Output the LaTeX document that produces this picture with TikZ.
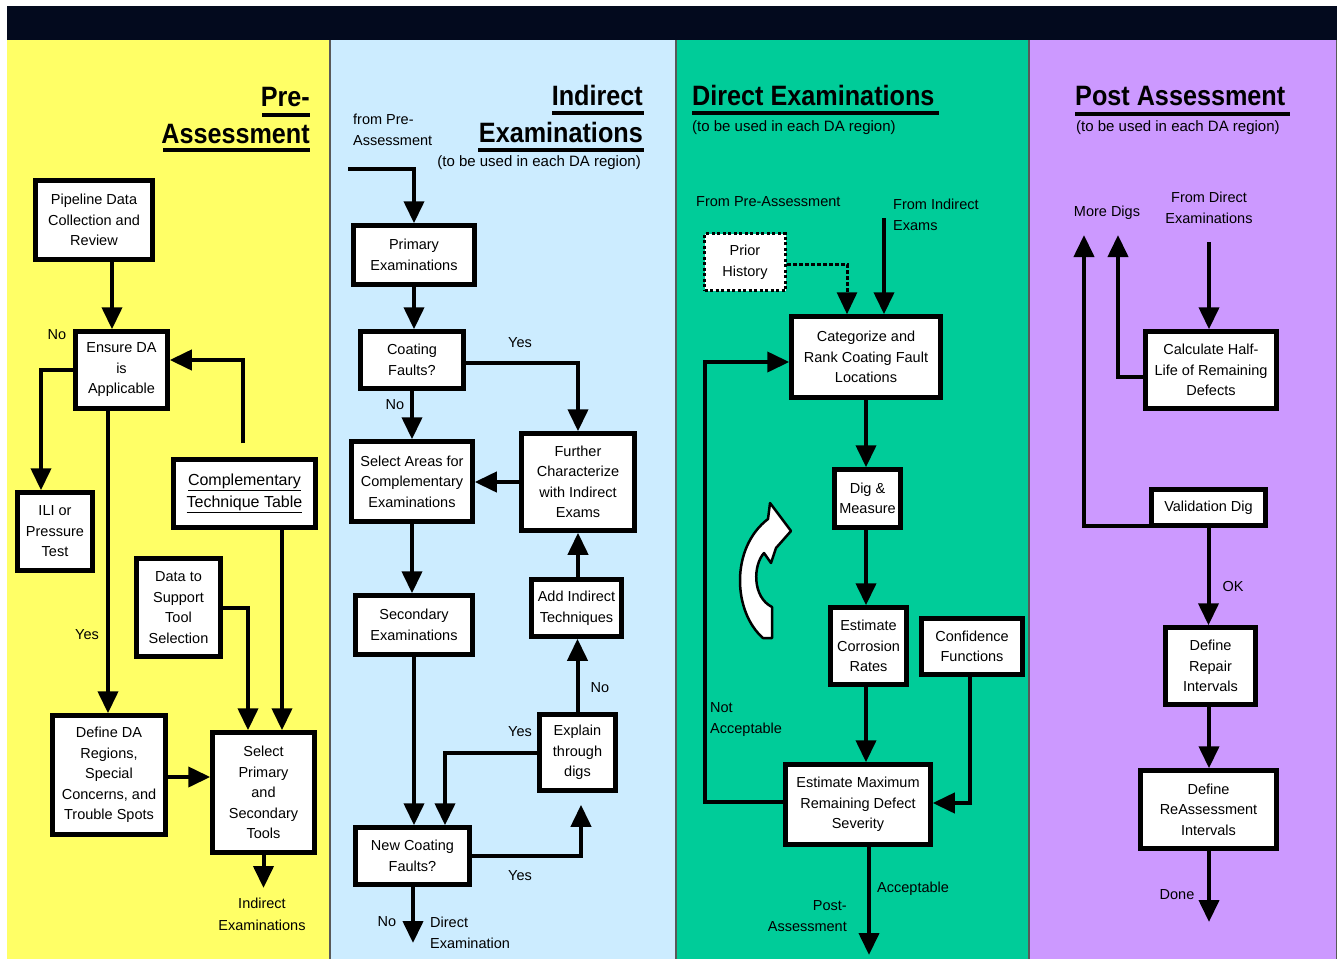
\documentclass[tikz,border=0pt]{standalone}
\usepackage{fontspec}
\setmainfont{Liberation Sans}
\newfontfamily\headfont[FakeStretch=0.9]{Liberation Sans Bold}
\usetikzlibrary{arrows.meta,calc}
\definecolor{cyel}{HTML}{FFFF66}
\definecolor{cblue}{HTML}{CCECFF}
\definecolor{cgreen}{HTML}{00CC99}
\definecolor{cpurp}{HTML}{CC99FF}
\definecolor{cdark}{HTML}{030A1E}
\newcommand{\boxfont}{\fontsize{14.5}{20.5}\selectfont}
\newcommand{\lblfont}{\fontsize{14.5}{21.5}\selectfont}
\begin{document}
\begin{tikzpicture}[x=1pt,y=-1pt,
  stepbox/.style={draw, line width=4.5pt, fill=white, align=center, inner sep=1pt, font=\boxfont},
  dotbox/.style={draw, line width=3pt, dash pattern=on 3pt off 2.5pt, fill=white, align=center, inner sep=1pt, font=\boxfont},
  arr/.style={line width=4pt, -{Triangle[length=22pt,width=20pt]}},
  dotarr/.style={line width=3pt, dash pattern=on 3.5pt off 2.5pt, -{Triangle[length=22pt,width=20pt]}},
  lbl/.style={font=\lblfont, inner sep=0pt, align=center},
  head/.style={font=\headfont\fontsize{28}{30}\selectfont, inner sep=0pt},
  sub/.style={font=\fontsize{15}{17}\selectfont, inner sep=0pt},
  uline/.style={line width=4pt}
]
\useasboundingbox (0,0) rectangle (1344,959);
\fill[white] (0,0) rectangle (1344,959);
% panels
\fill[cdark] (7,6) rectangle (1337,40);
\fill[cyel] (7,40) rectangle (330,959);
\fill[cblue] (330,40) rectangle (676,959);
\fill[cgreen] (676,40) rectangle (1029,959);
\fill[cpurp] (1029,40) rectangle (1337,959);
\draw[black!65, line width=1.2pt] (330,40) -- (330,959) (676,40) -- (676,959) (1029,40) -- (1029,959) (1336.5,40) -- (1336.5,959);

% ---------- Pre-Assessment ----------
\node[head, anchor=base east] (tPre) at (310,106) {Pre-};
\node[head, anchor=base east] (tAss) at (310,143) {Assessment};
\draw[uline] (262,115) -- (310,115);
\draw[uline] (163,150) -- (310,150);

\node[stepbox, minimum width=117pt, minimum height=79pt] (pd) at (94,220) {Pipeline Data\\Collection and\\Review};
\node[stepbox, minimum width=92pt, minimum height=77pt] (ens) at (121.5,370) {Ensure DA\\is\\Applicable};
\node[stepbox, minimum width=75pt, minimum height=78pt] (ili) at (55,531.5) {ILI or\\Pressure\\Test};
\node[stepbox, minimum width=142pt, minimum height=68pt, font=\fontsize{16}{22}\selectfont] (ctt) at (244.5,493.5) {\underline{Complementary}\\\underline{Technique Table}};
\node[stepbox, minimum width=84pt, minimum height=98pt] (data) at (178.5,607.5) {Data to\\Support\\Tool\\Selection};
\node[stepbox, minimum width=113pt, minimum height=119pt] (def) at (109,775) {Define DA\\Regions,\\Special\\Concerns, and\\Trouble Spots};
\node[stepbox, minimum width=102pt, minimum height=120pt] (sel) at (263.5,792.5) {Select\\Primary\\and\\Secondary\\Tools};

\draw[arr] ([xshift=18pt]pd.south) -- ([xshift=-9.5pt]ens.north);
\draw[arr] (ens.west) -| ([xshift=-14pt]ili.north);
\draw[arr] ([xshift=-13.5pt]ens.south) -- ([xshift=-1pt]def.north);
\draw[arr] ([xshift=-1.5pt,yshift=14pt]ctt.north) |- ([yshift=10pt]ens.east);
\draw[arr] (data.east) -| ([xshift=-15.5pt]sel.north);
\draw[arr] ([xshift=37.5pt]ctt.south) -- ([xshift=18.5pt]sel.north);
\draw[arr] ([yshift=-2pt]def.east) -- ([yshift=-2pt]def.east -| sel.west);
\coordinate (selend) at (263.5,888);
\draw[arr] (sel.south) -- (selend);

\node[lbl] (lNo1) at (57,335) {No};
\node[lbl] (lYes1) at (87,635) {Yes};
\node[lbl] (lIE) at (262,914.5) {Indirect\\Examinations};

% ---------- Indirect Examinations ----------
\node[head, anchor=base east] (tInd) at (643,105) {Indirect};
\node[head, anchor=base east] (tExa) at (643,142) {Examinations};
\draw[uline] (552,113) -- (644,113);
\draw[uline] (478,150) -- (644,150);
\node[sub, anchor=east] (sInd) at (641,163) {(to be used in each DA region)};
\node[lbl, anchor=west, align=left] (lFromPA) at (353,130) {from Pre-\\Assessment};

\node[stepbox, minimum width=121pt, minimum height=59pt] (prim) at (414,255) {Primary\\Examinations};
\node[stepbox, minimum width=103pt, minimum height=57pt] (coat) at (412,360) {Coating\\Faults?};
\node[stepbox, minimum width=121pt, minimum height=80pt] (sela) at (412,481.5) {Select Areas for\\Complementary\\Examinations};
\node[stepbox, minimum width=113pt, minimum height=97pt] (fur) at (578,482) {Further\\Characterize\\with Indirect\\Exams};
\node[stepbox, minimum width=117pt, minimum height=59pt] (sec) at (414,625) {Secondary\\Examinations};
\node[stepbox, minimum width=90pt, minimum height=57pt] (add) at (576.5,608) {Add Indirect\\Techniques};
\node[stepbox, minimum width=76pt, minimum height=76pt] (expl) at (577.5,752.5) {Explain\\through\\digs};
\node[stepbox, minimum width=114pt, minimum height=57pt] (newc) at (412.5,856) {New Coating\\Faults?};

\coordinate (fromPA) at (348,169);
\draw[arr] (fromPA) -| (prim.north);
\draw[arr] (prim.south) -- (prim.south |- coat.north);
\draw[arr] ([yshift=-3pt]coat.east) -| (fur.north);
\draw[arr] (coat.south) -- (coat.south |- sela.north);
\draw[arr] (fur.west) -- (fur.west -| sela.east);
\draw[arr] (sela.south) -- (sela.south |- sec.north);
\draw[arr] (sec.south) -- (sec.south |- newc.north);
\draw[arr] (add.north -| fur.south) -- (fur.south);
\draw[arr] (expl.north) -- (expl.north |- add.south);
\draw[arr] (expl.west) -| ([xshift=32.5pt]newc.north);
\draw[arr] (newc.east) -| ([xshift=3.5pt,yshift=-12pt]expl.south);
\coordinate (newcend) at (413,943);
\draw[arr] ([xshift=0.5pt]newc.south) -- (newcend);

\node[lbl] (lYes2) at (520,343) {Yes};
\node[lbl] (lNo2) at (395,405) {No};
\node[lbl] (lNo3) at (600,688) {No};
\node[lbl] (lYes3) at (520,732) {Yes};
\node[lbl] (lYes4) at (520,876) {Yes};
\node[lbl] (lNo4) at (387,922) {No};
\node[lbl, anchor=west, align=left] (lDE) at (430,933) {Direct\\Examination};

% ---------- Direct Examinations ----------
\node[head, anchor=base west] (tDir) at (692,105) {Direct Examinations};
\draw[uline] (692,113) -- (939,113);
\node[sub, anchor=west] (sDir) at (692,128) {(to be used in each DA region)};
\node[lbl, anchor=west] (lFPA) at (696,202) {From Pre-Assessment};
\node[lbl, anchor=west, align=left] (lFIE) at (893,215) {From Indirect\\Exams};

\node[dotbox, minimum width=81pt, minimum height=57pt] (prior) at (745,262) {Prior\\History};
\node[stepbox, minimum width=149pt, minimum height=81pt] (cat) at (866,357) {Categorize and\\Rank Coating Fault\\Locations};
\node[stepbox, minimum width=66pt, minimum height=58pt] (dig) at (867.5,498.5) {Dig \&\\Measure};
\node[stepbox, minimum width=76pt, minimum height=77pt] (ecr) at (868.5,646) {Estimate\\Corrosion\\Rates};
\node[stepbox, minimum width=101pt, minimum height=56pt] (conf) at (972,646.5) {Confidence\\Functions};
\node[stepbox, minimum width=145pt, minimum height=80pt] (emax) at (858,804.5) {Estimate Maximum\\Remaining Defect\\Severity};

\draw[dotarr] ([yshift=-2pt]prior.east) -| ([xshift=-19pt]cat.north);
\coordinate (fromIE) at (884,218);
\draw[arr] (fromIE) -- (fromIE |- cat.north);
\draw[arr] (cat.south) -- (cat.south |- dig.north);
\draw[arr] ([xshift=-1.5pt]dig.south) -- ([xshift=-1.5pt]dig.south |- ecr.north);
\draw[arr] ([xshift=-2.5pt]ecr.south) -- ([xshift=-2.5pt]ecr.south |- emax.north);
\draw[arr] ([xshift=-2pt]conf.south) |- ([yshift=1.5pt]emax.east);
\coordinate (loopx) at (705,600);
\coordinate (catin) at ([yshift=-5pt]cat.west);
\draw[arr] ([yshift=3pt]emax.west) -| (loopx) |- (catin);
\coordinate (emend) at (869,955);
\draw[arr] ([xshift=11pt]emax.south) -- (emend);

\node[lbl, anchor=west, align=left] (lNA) at (710,719.5) {Not\\Acceptable};
\node[lbl, anchor=west] (lAcc) at (877,889) {Acceptable};
\node[lbl, anchor=east, align=right] (lPA) at (847,916) {Post-\\Assessment};

% curved block arrow
\draw[line width=2.5pt, fill=white, line join=round]
  (770,503) -- (791,531) -- (776,548) -- (771,563) -- (764,553)
  .. controls (753,565) and (752,597) .. (772,607)
  -- (772,638) -- (763,638)
  .. controls (733,612) and (730,548) .. (768,519)
  -- cycle;

% ---------- Post Assessment ----------
\node[head, anchor=base west] (tPost) at (1075,105) {Post Assessment};
\draw[uline] (1075,114) -- (1290,114);
\node[sub, anchor=west] (sPost) at (1076,128) {(to be used in each DA region)};
\node[lbl] (lMD) at (1107,213) {More Digs};
\node[lbl] (lFDE) at (1209,208) {From Direct\\Examinations};

\node[stepbox, minimum width=131pt, minimum height=77pt] (calc) at (1211,370) {Calculate Half-\\Life of Remaining\\Defects};
\node[stepbox, minimum width=114pt, minimum height=36pt] (val) at (1208.5,507.5) {Validation Dig};
\node[stepbox, minimum width=90pt, minimum height=77pt] (rep) at (1210.5,666) {Define\\Repair\\Intervals};
\node[stepbox, minimum width=136pt, minimum height=78pt] (reas) at (1208.5,809.5) {Define\\ReAssessment\\Intervals};

\coordinate (fromDE) at (1209,242);
\draw[arr] (fromDE) -- (fromDE |- calc.north);
\coordinate (md2) at (1118,235);
\draw[arr] ([yshift=-7pt]calc.west) -| (md2);
\coordinate (md1) at (1084,235);
\draw[arr] ([yshift=2pt]val.south west) -| (md1);
\draw[arr] (val.south) -- (val.south |- rep.north);
\draw[arr] ([xshift=-1.5pt]rep.south) -- ([xshift=-1.5pt]rep.south |- reas.north);
\coordinate (doneend) at (1209,922);
\draw[arr] ([xshift=0.5pt]reas.south) -- (doneend);

\node[lbl] (lOK) at (1233,586) {OK};
\node[lbl] (lDone) at (1177,895) {Done};
\end{tikzpicture}
\end{document}
